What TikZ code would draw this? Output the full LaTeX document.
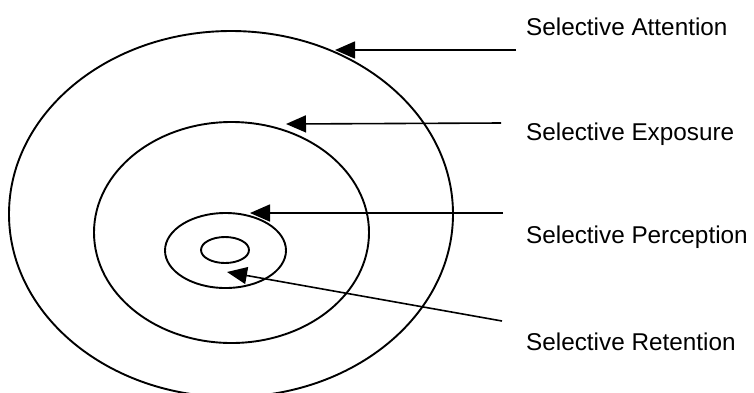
\documentclass[tikz,border=0pt]{standalone}
\usepackage{fontspec}
\setmainfont{Liberation Sans}
\usetikzlibrary{arrows.meta}

\begin{document}
\begin{tikzpicture}[x=1pt,y=-1pt,
  ring/.style={line width=1.9pt},
  pointer/.style={line width=1.6pt,-{Triangle[length=20pt,width=17pt]}},
  lab/.style={anchor=base west,inner sep=0pt,font=\fontsize{24.3}{29}\selectfont}]
  \useasboundingbox (0,0) rectangle (754,392);
  % rings, outside in
  \draw[ring] (231,214) ellipse [x radius=222pt,y radius=183pt];
  \draw[ring] (231.5,232.5) ellipse [x radius=137.5pt,y radius=110.5pt];
  \draw[ring] (225.5,250.5) ellipse [x radius=60.5pt,y radius=37.5pt];
  \draw[ring] (225,250) ellipse [x radius=24pt,y radius=13pt];
  % labels
  \node[lab] (attention) at (526,35) {Selective Attention};
  \node[lab] (exposure) at (526,140) {Selective Exposure};
  \node[lab] (perception) at (526,243) {Selective Perception};
  \node[lab] (retention) at (526,350) {Selective Retention};
  % pointers from the labels to the rings
  \foreach \name/\sx/\sy/\tx/\ty in {attention/516/50/335/50,exposure/501/123/286/124,
      perception/503/213/250/213,retention/502/321/227/272} {
    \coordinate (\name End) at (\sx,\sy);
    \coordinate (\name Tip) at (\tx,\ty);
    \draw[pointer] (\name End) -- (\name Tip);
  }
\end{tikzpicture}
\end{document}
